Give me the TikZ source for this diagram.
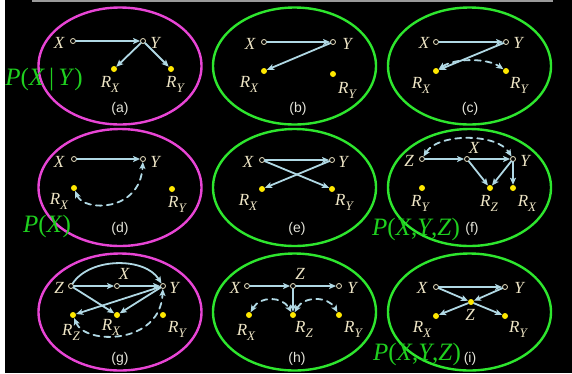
\documentclass[tikz,border=0pt]{standalone}
\usepackage{fontspec}
\setmainfont{Liberation Serif}
\newfontfamily\capfont{Liberation Sans}
\usepackage{tikz}
\usetikzlibrary{arrows.meta}
\definecolor{ringpink}{HTML}{E845D5}
\definecolor{ringgreen}{HTML}{2EE62E}
\definecolor{cream}{HTML}{EFE6C6}
\definecolor{capgray}{HTML}{E4E4DA}
\definecolor{probgreen}{HTML}{1FD01F}
\definecolor{edgeblue}{HTML}{B0D8E4}
\definecolor{dotyellow}{HTML}{FFE800}
\definecolor{rulegray}{HTML}{9A9A9A}
\newcommand{\rvar}[1]{\textit{R}\raisebox{-5pt}{\fontsize{13}{13}\selectfont\itshape #1}}
\tikzset{
    every picture/.style={line cap=round,line join=round},
    varnode/.style={circle,draw=cream,fill=black,line width=0.8pt,
      minimum size=5pt,inner sep=0pt},
    missnode/.style={circle,fill=dotyellow,minimum size=6pt,inner sep=0pt},
    varlabel/.style={anchor=base,text=cream,inner sep=0pt,
      font=\fontsize{17}{17}\selectfont\itshape},
    panelring/.style={line width=2.4pt},
    paneltag/.style={anchor=base,text=capgray,inner sep=0pt,
      font=\capfont\fontsize{14}{14}\selectfont},
    problabel/.style={anchor=base,text=probgreen,inner sep=0pt,
      font=\fontsize{25}{25}\selectfont},
    depedge/.style={->,draw=edgeblue,line width=1.8pt},
    missedge/.style={<->,draw=edgeblue,line width=1.8pt,dash pattern=on 6pt off 5pt}
}

\begin{document}
\begin{tikzpicture}[x=1pt,y=-1pt,>={Stealth[length=7pt,width=6pt,inset=1.5pt]}]
  \fill[white] (0,0) rectangle (572,373);
  \fill[black] (5,0) rectangle (572,373);
  \fill[rulegray] (32,0) rectangle (553,1.6);
  \foreach \cx/\cy/\ring in {120/66/ringpink,294.5/66/ringgreen,469.5/66/ringgreen,
      120/187.5/ringpink,294.5/187.5/ringgreen,469.5/187.5/ringgreen,
      120/312/ringpink,294.5/312/ringgreen,469.5/312/ringgreen}
    \draw[panelring,\ring] (\cx,\cy) ellipse [x radius=81.5,y radius=58.5];

  % (a)
  \node[varnode] (aX) at (73,41) {};
  \node[varnode] (aY) at (143,41) {};
  \node[missnode] (aRX) at (114,69) {};
  \node[missnode] (aRY) at (171,69) {};
  \node[varlabel] (aXt) at (59,48) {X};
  \node[varlabel] (aYt) at (155,48) {Y};
  \node[varlabel] (aRXt) at (110,87) {\rvar{X}};
  \node[varlabel] (aRYt) at (175,87) {\rvar{Y}};
  \node[problabel] (aP) at (44,85) {\textit{P}(\textit{X}\,|\,\textit{Y})};
  \node[paneltag] (aTag) at (120,112) {(a)};
  \draw[depedge] (aX) -- (aY);
  \draw[depedge] (aY) -- (aRX);
  \draw[depedge] (aY) -- (aRY);

  % (b)
  \node[varnode] (bX) at (264,42) {};
  \node[varnode] (bY) at (333,42) {};
  \node[missnode] (bRX) at (264,71) {};
  \node[missnode] (bRY) at (333,74) {};
  \node[varlabel] (bXt) at (250,49) {X};
  \node[varlabel] (bYt) at (347,49) {Y};
  \node[varlabel] (bRXt) at (249,87) {\rvar{X}};
  \node[varlabel] (bRYt) at (347,93) {\rvar{Y}};
  \node[paneltag] (bTag) at (298,112) {(b)};
  \draw[depedge] (bX) -- (bY);
  \draw[depedge] (bY) -- (bRX);

  % (c)
  \node[varnode] (cX) at (436,42) {};
  \node[varnode] (cY) at (506,42) {};
  \node[missnode] (cRX) at (436,71) {};
  \node[missnode] (cRY) at (506,71) {};
  \node[varlabel] (cXt) at (424,48) {X};
  \node[varlabel] (cYt) at (518,48) {Y};
  \node[varlabel] (cRXt) at (421,88) {\rvar{X}};
  \node[varlabel] (cRYt) at (519,88) {\rvar{Y}};
  \node[paneltag] (cTag) at (470,112) {(c)};
  \draw[depedge] (cX) -- (cY);
  \draw[depedge] (cY) -- (cRX);
  \draw[missedge] (cRX) .. controls (455,58) and (487,58) .. (cRY);

  % (d)
  \node[varnode] (dX) at (74,159) {};
  \node[varnode] (dY) at (143,159) {};
  \node[missnode] (dRX) at (74,188) {};
  \node[missnode] (dRY) at (172,189) {};
  \node[varlabel] (dXt) at (59,167) {X};
  \node[varlabel] (dYt) at (155,167) {Y};
  \node[varlabel] (dRXt) at (59,204) {\rvar{X}};
  \node[varlabel] (dRYt) at (177,207) {\rvar{Y}};
  \node[problabel] (dP) at (47,232) {\textit{P}(\textit{X})};
  \node[paneltag] (dTag) at (120,232) {(d)};
  \draw[depedge] (dX) -- (dY);
  \draw[missedge] (dRX) .. controls (84,212) and (140,212) .. (dY);

  % (e)
  \node[varnode] (eX) at (262,160) {};
  \node[varnode] (eY) at (332,160) {};
  \node[missnode] (eRX) at (262,189) {};
  \node[missnode] (eRY) at (332,189) {};
  \node[varlabel] (eXt) at (248,167) {X};
  \node[varlabel] (eYt) at (343,167) {Y};
  \node[varlabel] (eRXt) at (248,205) {\rvar{X}};
  \node[varlabel] (eRYt) at (344,205) {\rvar{Y}};
  \node[paneltag] (eTag) at (297,232) {(e)};
  \draw[depedge] (eX) -- (eY);
  \draw[depedge] (eX) -- (eRY);
  \draw[depedge] (eY) -- (eRX);

  % (f)
  \node[varnode] (fZ) at (422,159) {};
  \node[varnode] (fX) at (467,159) {};
  \node[varnode] (fY) at (513,159) {};
  \node[missnode] (fRY) at (422,188) {};
  \node[missnode] (fRZ) at (490,188) {};
  \node[missnode] (fRX) at (513,188) {};
  \node[varlabel] (fZt) at (409,166) {Z};
  \node[varlabel] (fXt) at (474,153) {X};
  \node[varlabel] (fYt) at (525,166) {Y};
  \node[varlabel] (fRYt) at (420,206) {\rvar{Y}};
  \node[varlabel] (fRZt) at (489,206) {\rvar{Z}};
  \node[varlabel] (fRXt) at (527,206) {\rvar{X}};
  \node[problabel] (fP) at (416,235) {\textit{P}(\textit{X},\textit{Y},\textit{Z})};
  \node[paneltag] (fTag) at (472,232.5) {(f)};
  \draw[depedge] (fZ) -- (fX);
  \draw[depedge] (fX) -- (fY);
  \draw[depedge] (fX) -- (fRZ);
  \draw[depedge] (fY) -- (fRZ);
  \draw[depedge] (fY) -- (fRX);
  \draw[missedge] (fZ) .. controls (438,133) and (497,133) .. (fY);

  % (g)
  \node[varnode] (gZ) at (71,286) {};
  \node[varnode] (gX) at (117,286) {};
  \node[varnode] (gY) at (163,286) {};
  \node[missnode] (gRZ) at (73,315) {};
  \node[missnode] (gRX) at (117,315) {};
  \node[missnode] (gRY) at (163,315) {};
  \node[varlabel] (gZt) at (59,293) {Z};
  \node[varlabel] (gXt) at (124,279) {X};
  \node[varlabel] (gYt) at (174,293) {Y};
  \node[varlabel] (gRZt) at (71,335) {\rvar{Z}};
  \node[varlabel] (gRXt) at (111,330) {\rvar{X}};
  \node[varlabel] (gRYt) at (177,332) {\rvar{Y}};
  \node[paneltag] (gTag) at (120,362) {(g)};
  \draw[depedge] (gZ) -- (gX);
  \draw[depedge] (gX) -- (gY);
  \draw[depedge] (gZ) .. controls (90,257) and (145,257) .. (gY);
  \draw[depedge] (gZ) -- (gRX);
  \draw[depedge] (gY) -- (gRZ);
  \draw[depedge] (gY) -- (gRX);
  \draw[missedge] (gRZ) .. controls (85,345) and (160,345) .. (gY);

  % (h)
  \node[varnode] (hX) at (247,286) {};
  \node[varnode] (hZ) at (293,286) {};
  \node[varnode] (hY) at (339,286) {};
  \node[missnode] (hRX) at (249,315) {};
  \node[missnode] (hRZ) at (293,315) {};
  \node[missnode] (hRY) at (339,315) {};
  \node[varlabel] (hXt) at (235,293) {X};
  \node[varlabel] (hZt) at (300,279) {Z};
  \node[varlabel] (hYt) at (352,293) {Y};
  \node[varlabel] (hRXt) at (246,335) {\rvar{X}};
  \node[varlabel] (hRZt) at (304,332) {\rvar{Z}};
  \node[varlabel] (hRYt) at (353,332) {\rvar{Y}};
  \node[paneltag] (hTag) at (297,362) {(h)};
  \draw[depedge] (hX) -- (hZ);
  \draw[depedge] (hZ) -- (hY);
  \draw[depedge] (hZ) -- (hRZ);
  \draw[missedge] (hRX) .. controls (260,296) and (282,296) .. (hRZ);
  \draw[missedge] (hRZ) .. controls (304,296) and (328,296) .. (hRY);

  % (i)
  \node[varnode] (iX) at (436,287) {};
  \node[varnode] (iY) at (505,287) {};
  \node[missnode] (iZ) at (471,302) {};
  \node[missnode] (iRX) at (436,316) {};
  \node[missnode] (iRY) at (505,316) {};
  \node[varlabel] (iXt) at (422,293) {X};
  \node[varlabel] (iYt) at (519,293) {Y};
  \node[varlabel] (iZt) at (470,320) {Z};
  \node[varlabel] (iRXt) at (422,332) {\rvar{X}};
  \node[varlabel] (iRYt) at (518,332) {\rvar{Y}};
  \node[problabel] (iP) at (417,360) {\textit{P}(\textit{X},\textit{Y},\textit{Z})};
  \node[paneltag] (iTag) at (470,362) {(i)};
  \draw[depedge] (iX) -- (iY);
  \draw[depedge] (iX) -- (iZ);
  \draw[depedge] (iY) -- (iZ);
  \draw[depedge] (iZ) -- (iRX);
  \draw[depedge] (iZ) -- (iRY);
\end{tikzpicture}
\end{document}
